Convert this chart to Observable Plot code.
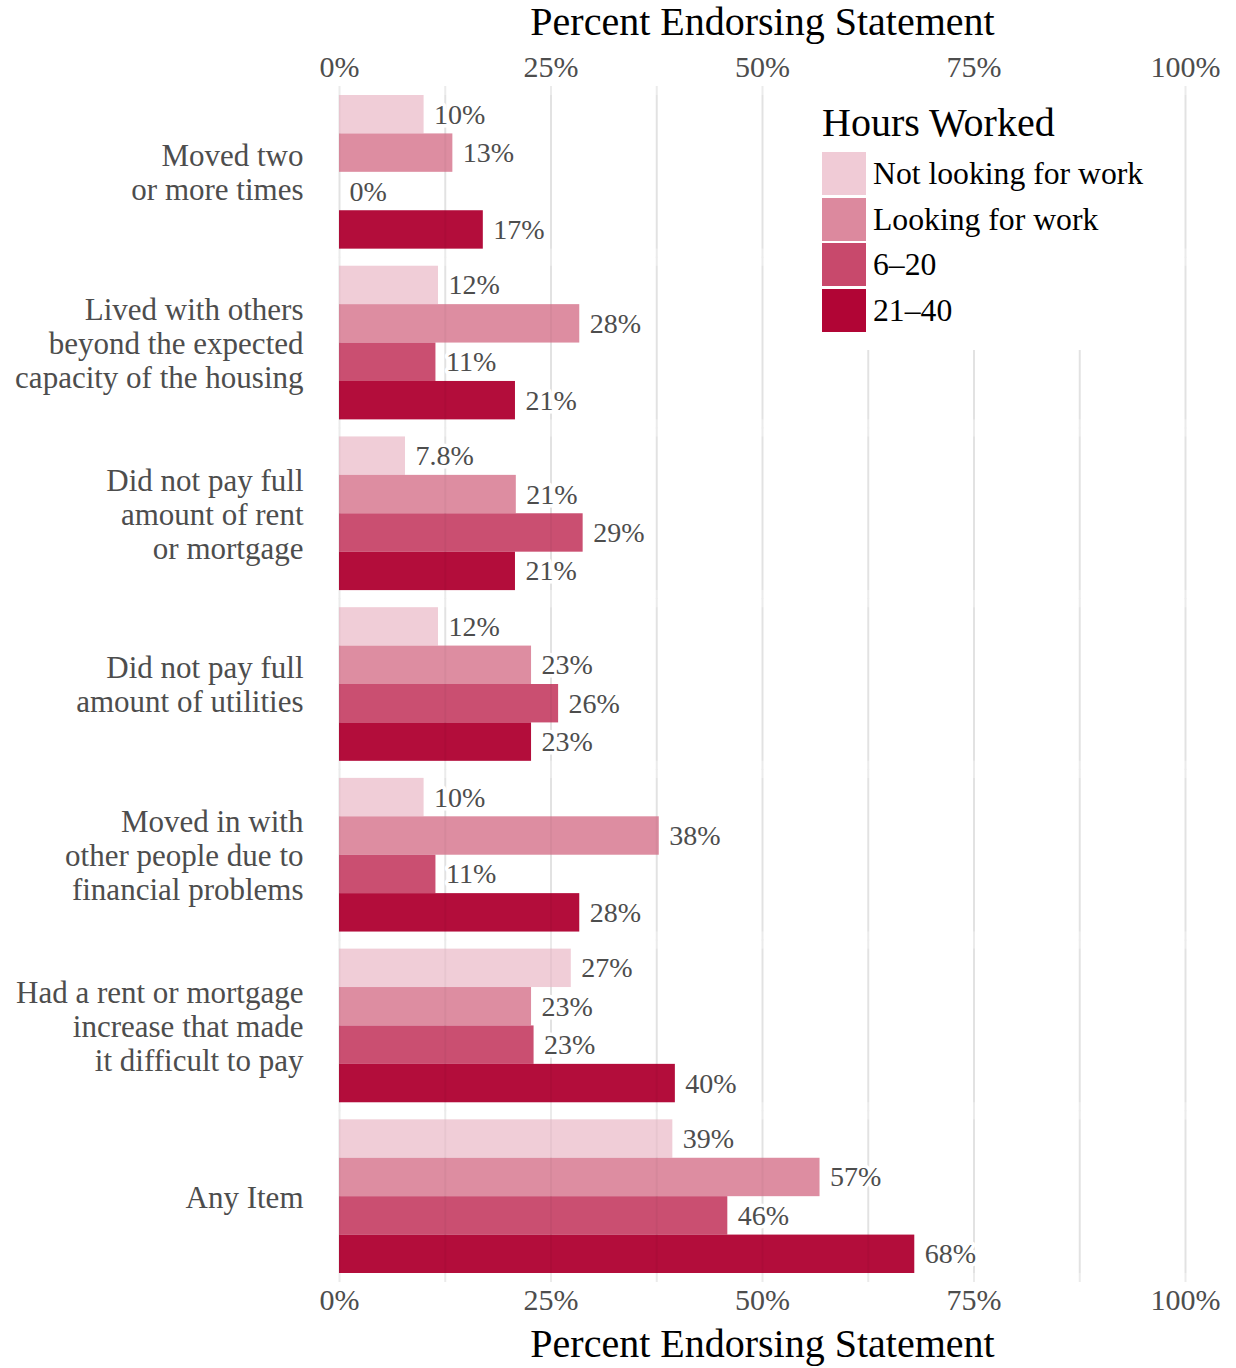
<!DOCTYPE html>
<html>
<head>
<meta charset="utf-8">
<script src="https://cdn.jsdelivr.net/npm/d3@7"></script>
<script src="https://cdn.jsdelivr.net/npm/@observablehq/plot@0.6"></script>
<style>
  html, body { margin: 0; padding: 0; background: white; }
  #wrap { position: relative; width: 1236px; height: 1368px; font-family: "Liberation Serif", "Times New Roman", serif; }
  #legend { position: absolute; left: 812px; top: 84px; width: 366px; height: 266px; background: white; }
  #legend .title { position: absolute; left: 10px; top: 19px; font-size: 40px; line-height: 1; color: #000; white-space: nowrap; }
  #legend .sw { position: absolute; left: 10px; width: 44px; height: 43px; }
  #legend .lab { position: absolute; left: 61px; font-size: 31.7px; line-height: 43px; height: 43px; color: #000; white-space: nowrap; }
</style>
</head>
<body>
<div id="wrap"></div>
<script>
// ---- data ----
const categories = [
  "Moved two or more times",
  "Lived with others beyond the expected capacity of the housing",
  "Did not pay full amount of rent or mortgage",
  "Did not pay full amount of utilities",
  "Moved in with other people due to financial problems",
  "Had a rent or mortgage increase that made it difficult to pay",
  "Any Item"
];
const categoryLabels = [
  "Moved two\nor more times",
  "Lived with others\nbeyond the expected\ncapacity of the housing",
  "Did not pay full\namount of rent\nor mortgage",
  "Did not pay full\namount of utilities",
  "Moved in with\nother people due to\nfinancial problems",
  "Had a rent or mortgage\nincrease that made\nit difficult to pay",
  "Any Item"
];
const groups = ["Not looking for work", "Looking for work", "6\u201320", "21\u201340"];
const colors = ["#f0cbd6", "#dc899e", "#c8496c", "#b10535"];
// percent endorsing, per category, in order of groups
const notLooking = [10, 11.7, 7.8, 11.7, 10, 27.4, 39.4];
const looking    = [13.4, 28.4, 20.9, 22.7, 37.8, 22.7, 56.8];
const hours6_20  = [0, 11.4, 28.8, 25.9, 11.4, 23.0, 45.9];
const hours21_40 = [17, 20.8, 20.8, 22.7, 28.4, 39.7, 68];
const xTicks = [0, 25, 50, 75, 100];
const gridTicks = [0, 12.5, 25, 37.5, 50, 62.5, 75, 87.5, 100];
const axisTitle = "Percent Endorsing Statement";
const legendTitle = "Hours Worked";

// ---- table ----
const series = [notLooking, looking, hours6_20, hours21_40];
const data = [];
categories.forEach((c, i) => {
  groups.forEach((g, j) => data.push({category: c, group: g, value: series[j][i]}));
});
const gridData = [];
categories.forEach(c => gridTicks.forEach(t => gridData.push({category: c, x: t})));
const labelOf = new Map(categories.map((c, i) => [c, categoryLabels[i]]));
const fmt = d3.format(".2~r");

const gray = "#4d4d4d";
const plot = Plot.plot({
  width: 1236,
  height: 1368,
  marginLeft: 339,
  marginRight: 51,
  marginTop: 95,
  marginBottom: 95,
  style: {fontFamily: "'Liberation Serif', 'Times New Roman', serif", background: "white", overflow: "visible"},
  x: {domain: [0, 100]},
  y: {domain: groups, padding: 0, round: false, axis: null},
  fy: {domain: categories, paddingInner: 0.1, paddingOuter: 0, round: false, axis: null},
  color: {domain: groups, range: colors},
  marks: [
    Plot.ruleX(gridData, {x: "x", fy: "category", stroke: "#ebebeb", strokeWidth: 2, insetTop: -9, insetBottom: -9}),
    Plot.barX(data, {x: "value", y: "group", fy: "category", fill: "group", fillOpacity: 0.97}),
    Plot.ruleX(gridData, {x: "x", fy: "category", stroke: "#000", strokeOpacity: 0.035, strokeWidth: 2}),
    Plot.text(data, {
      x: "value", y: "group", fy: "category",
      text: d => fmt(d.value) + "%",
      textAnchor: "start", dx: 10, fontSize: 28, fill: gray,
      stroke: "white", strokeWidth: 7, paintOrder: "stroke"
    }),
    Plot.text(categories, {
      fy: d => d, text: d => labelOf.get(d),
      frameAnchor: "left", textAnchor: "end", dx: -36,
      lineHeight: 1.1, fontSize: 31, fill: gray
    }),
    Plot.axisX({anchor: "top", ticks: xTicks, tickFormat: d => d + "%", tickSize: 0, tickPadding: 19, fontSize: 30, fill: gray, label: null}),
    Plot.axisX({anchor: "bottom", ticks: xTicks, tickFormat: d => d + "%", tickSize: 0, tickPadding: 15, fontSize: 30, fill: gray, label: null}),
    Plot.text([axisTitle], {frameAnchor: "top", lineAnchor: "middle", dy: -73, fontSize: 40, fill: "black", facet: "super"}),
    Plot.text([axisTitle], {frameAnchor: "bottom", lineAnchor: "middle", dy: 71, fontSize: 40, fill: "black", facet: "super"})
  ]
});

const wrap = document.getElementById("wrap");
wrap.appendChild(plot);

// legend (overlaid inside the panel, top right)
const colorScale = plot.scale("color");
const legend = document.createElement("div");
legend.id = "legend";
const t = document.createElement("div");
t.className = "title";
t.textContent = legendTitle;
legend.appendChild(t);
groups.forEach((g, i) => {
  const top = 68 + i * 45.7;
  const sw = document.createElement("div");
  sw.className = "sw";
  sw.style.top = top + "px";
  sw.style.background = colorScale.apply(g);
  legend.appendChild(sw);
  const lab = document.createElement("div");
  lab.className = "lab";
  lab.style.top = top + "px";
  lab.textContent = g;
  legend.appendChild(lab);
});
wrap.appendChild(legend);
</script>
</body>
</html>
